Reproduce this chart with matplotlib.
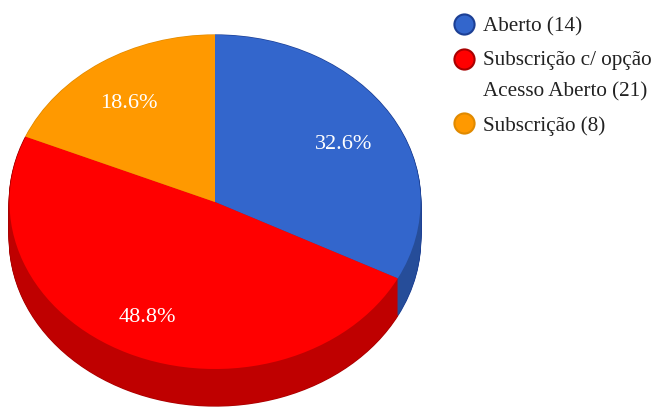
import matplotlib
matplotlib.use("Agg")
import matplotlib.pyplot as plt

labels = ["Aberto (14)", "Subscrição c/ opção\nAcesso Aberto (21)", "Subscrição (8)"]
values = [14, 21, 8]
pct_labels = ["32.6%", "48.8%", "18.6%"]
top_colors = ["#3366CC", "#FF0000", "#FF9900"]
side_colors = ["#264D99", "#BF0000", "#BF7300"]
edge_colors = ["#1C3F94", "#A80000", "#E08A00"]

W, H = 654, 407
CX, CY, RX, RY, DEPTH = 215, 202, 205.5, 167, 37
RIM = 1 + 0.8 / RX

plt.rcParams["font.family"] = ["Liberation Serif"]
fig = plt.figure(figsize=(W / 100, H / 100), dpi=100, facecolor="white")
ax = fig.add_axes([0, 0, 1, 1])

pie_args = dict(startangle=90, counterclock=False, wedgeprops=dict(linewidth=0))
# dark outer rim, then the extruded side, then the top face
for d in range(DEPTH, -1, -1):
    ax.pie(values, colors=edge_colors, radius=RIM, center=(0, -d / RY), **pie_args)
for d in range(DEPTH, 0, -1):
    ax.pie(values, colors=side_colors, radius=1, center=(0, -d / RY), **pie_args)
ax.pie(values, colors=top_colors, radius=1, center=(0, 0), **pie_args)

ax.set_aspect("auto")
ax.set_xlim(-CX / RX, (W - CX) / RX)
ax.set_ylim((CY - H) / RY, CY / RY)
ax.axis("off")


def put(px, py, s, **kw):
    ax.text((px - CX) / RX, (CY - py) / RY, s, **kw)


for (px, py), s in zip([(344, 145), (147, 318), (129, 104)], pct_labels):
    put(px, py, s, color="white", fontsize=16, ha="center", va="center")

marker_y = [24, 59, 123]
text_y = [27, 76.5, 126]
for my, ty, s, c, e in zip(marker_y, text_y, labels, top_colors, edge_colors):
    ax.plot((464 - CX) / RX, (CY - my) / RY, "o", ms=14.5, mfc=c, mec=e, mew=1.5, clip_on=False)
    put(483, ty, s, color="#222222", fontsize=15.2, ha="left", va="center", linespacing=1.85)

fig.savefig("out.png", dpi=100)
